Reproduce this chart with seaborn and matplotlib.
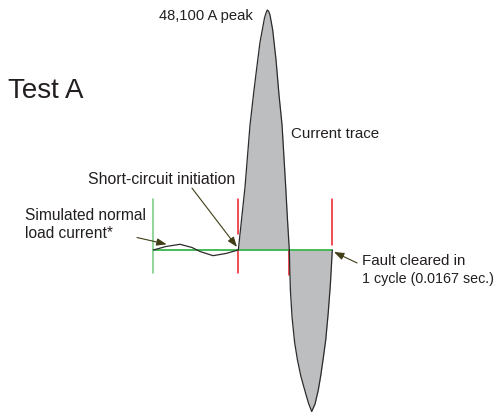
import numpy as np
import pandas as pd
import matplotlib
matplotlib.use("Agg")
import matplotlib.pyplot as plt
import seaborn as sns

# time in ms, current in kA
load_t = [-15.10, -12.84, -10.36, -8.23, -6.81, -4.49, -2.19, 0.00]
load_i = [0.00, 0.70, 1.14, 0.50, -0.30, -1.14, -0.70, 0.00]

fault_t = [0.00, 0.57, 1.19, 2.08, 2.79, 3.45, 3.86, 4.26, 4.65, 4.95, 5.15,
           5.40, 5.63, 6.11, 6.70, 7.23, 7.77, 8.42, 8.74, 9.06,
           9.25, 9.55, 10.00, 10.50, 11.09, 11.85, 12.47, 13.04,
           13.63, 14.21, 14.64, 15.05, 15.53, 15.98, 16.35, 16.70]
fault_i = [0.0, 6.01, 12.63, 25.05, 32.07, 38.08, 41.69, 44.09, 46.50, 47.6, 48.1,
           47.8, 47.1, 44.09, 38.08, 31.07, 25.05, 12.63, 6.01, 0.0,
           -8.0, -13.5, -18.5, -22.0, -25.2, -28.3, -30.7, -32.37,
           -30.86, -28.06, -25.2, -22.0, -18.04, -12.5, -7.0, 0.0]

peak_label = "48,100 A peak"
t_start = -15.10       # start of simulated load current
t_fault = 0.0          # short-circuit initiation
t_zero = 9.06          # first current zero
t_clear = 16.70        # fault cleared after 1 cycle

W, H = 497, 412
XLIM = (-42.34, 45.96)
YLIM = (-32.47, 50.10)

INK = "#231f20"
GREY = "#bcbec0"
GREEN = "#3cb54a"
RED = "#ed1c24"
ARROW = "#403d17"

sns.set_style("white")
plt.rcParams["font.family"] = ["Liberation Sans", "DejaVu Sans"]

fig = plt.figure(figsize=(W / 100, H / 100), dpi=100)
ax = fig.add_axes([0, 0, 1, 1])

# shaded fault current
ax.fill_between(fault_t, fault_i, 0, color=GREY, lw=0, zorder=1)

# zero line and markers
ax.plot([t_start, t_clear], [0, 0], color=GREEN, lw=1.3, zorder=2)
ax.plot([t_start, t_start], [10.2, -4.6], color="#7fcf8a", lw=1.2, zorder=2)
ax.plot([t_fault, t_fault], [10.2, 3.2], color=RED, lw=1.1, zorder=2)
ax.plot([t_fault, t_fault], [-0.3, -4.6], color=RED, lw=1.1, zorder=2)
ax.plot([t_zero, t_zero], [-0.3, -5.0], color=RED, lw=1.1, zorder=2)
ax.plot([t_clear, t_clear], [10.2, 1.0], color=RED, lw=1.1, zorder=2)

trace = pd.DataFrame({"t": load_t + fault_t[1:], "i": load_i + fault_i[1:]})
sns.lineplot(data=trace, x="t", y="i", sort=False, estimator=None,
             color="#2b2b2b", lw=0.9, ax=ax, zorder=3)
ax.set_xlim(*XLIM)
ax.set_ylim(*YLIM)
ax.axis("off")


def px(x, y):
    return x / W, 1 - y / H


def txt(x, y, s, size=11.2, ha="left"):
    ax.text(*px(x, y), s, transform=ax.transAxes, fontsize=size,
            color=INK, ha=ha, va="baseline")


def arrow(head, tail):
    ax.annotate("", xy=head, xytext=tail, xycoords="data", textcoords="data",
                arrowprops=dict(arrowstyle="-|>,head_length=0.6,head_width=0.22",
                                color=ARROW, lw=0.8, shrinkA=0, shrinkB=0,
                                mutation_scale=10), zorder=4)


txt(8, 98, "Test A", size=20)
txt(253, 20, peak_label, size=10.6, ha="right")
txt(291, 138, "Current trace", size=10.9)
txt(88, 184, "Short-circuit initiation", size=11.4)
txt(25, 220, "Simulated normal")
txt(25, 238, "load current*")
txt(362, 265, "Fault cleared in", size=10.9)
txt(362, 283, "1 cycle (0.0167 sec.)", size=10.3)

arrow((-12.72, 1.14), (-18.0, 2.5))
arrow((-0.23, 0.6), (-8.23, 12.4))
arrow((16.99, -0.4), (21.1, -2.6))

fig.savefig("out.png", dpi=100)
